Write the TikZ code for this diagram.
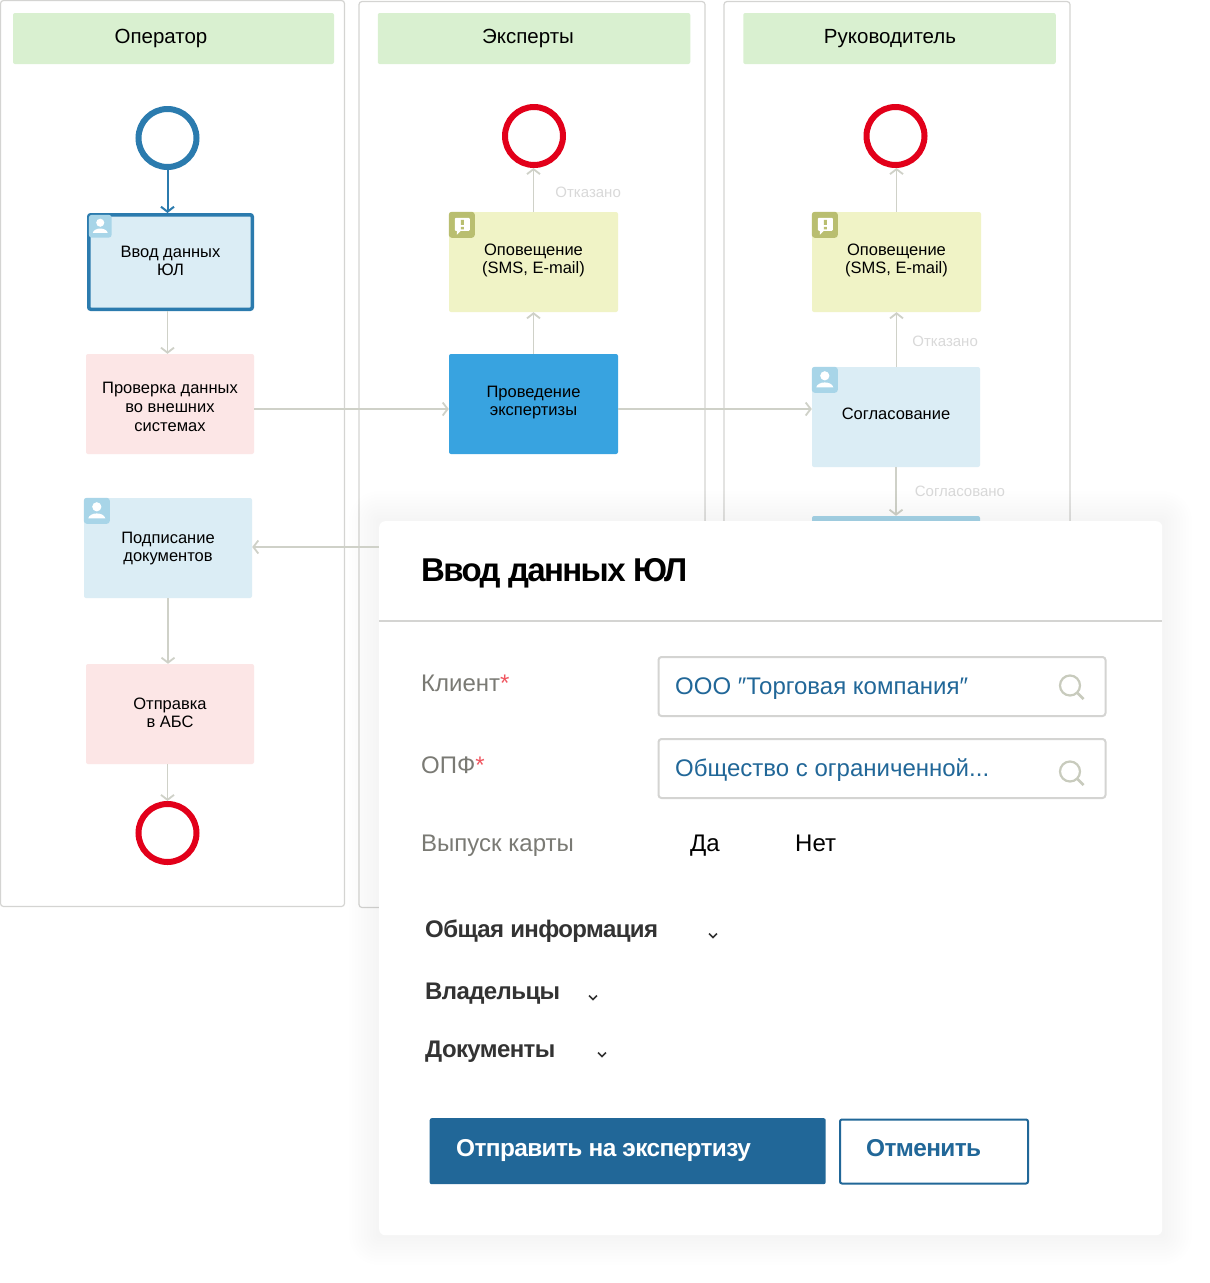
\documentclass[tikz,border=0pt]{standalone}
\usepackage{fontspec}
\setmainfont{Liberation Sans}
\newfontfamily\titlefont[LetterSpace=-5]{Liberation Sans}
\newfontfamily\sectionfont[LetterSpace=-2.5]{Liberation Sans}
\newfontfamily\buttonfont[LetterSpace=-2.5]{Liberation Sans}
\usetikzlibrary{arrows.meta}
\definecolor{laneline}{HTML}{D4D4D2}
\definecolor{headgreen}{HTML}{D9F0D0}
\definecolor{flowblue}{HTML}{2B7BAE}
\definecolor{stopred}{HTML}{E2001A}
\definecolor{userfill}{HTML}{DBEDF5}
\definecolor{usericon}{HTML}{A8D5E8}
\definecolor{autofill}{HTML}{FCE6E6}
\definecolor{notefill}{HTML}{F0F3C6}
\definecolor{noteicon}{HTML}{B9BE70}
\definecolor{examfill}{HTML}{38A3E0}
\definecolor{flowline}{HTML}{CFD1C8}
\definecolor{flowtext}{HTML}{D9D9D9}
\definecolor{formgray}{HTML}{7A7A74}
\definecolor{formblue}{HTML}{216798}
\definecolor{formstar}{HTML}{F0555F}
\definecolor{searchgray}{HTML}{C8CBBD}
\definecolor{darktext}{HTML}{333333}

\begin{document}
\begin{tikzpicture}[x=1pt,y=1pt,>={Straight Barb[length=5pt,width=13pt]},
                    pics/usermark/.style={code={
                      \fill[usericon,rounded corners=3pt] (0,0) rectangle (26,-26);
                      \fill[white] (13,-9) circle (4.6);
                      \fill[white] (4.5,-20.5) .. controls (6,-14) and (20,-14) .. (21.5,-20.5) -- cycle;}},
                    pics/notemark/.style={code={
                      \fill[noteicon,rounded corners=3pt] (0,0) rectangle (26,-26);
                      \fill[white,rounded corners=1pt] (6,-6) rectangle (21,-19);
                      \fill[white] (8,-18) -- (8,-23) -- (13,-18) -- cycle;
                      \fill[noteicon] (12,-8) rectangle (15,-13) (12,-15) rectangle (15,-17.5);}},
                    pics/lens/.style={code={
                      \draw[searchgray,line width=2.2pt] (0,-0.5) circle (10);
                      \draw[searchgray,line width=2.8pt] (7.5,-8) -- (13.5,-14);}},
                    pics/fold/.style={code={
                      \draw[darktext,line width=1.5pt] (-4,2) -- (0,-2) -- (4,2);}}]
  \tikzstyle{lane}=[draw=laneline,line width=1.2pt,fill=white,rounded corners=3pt,
                    minimum width=346pt,minimum height=906pt]
  \tikzstyle{lanehead}=[fill=headgreen,rounded corners=2pt,minimum height=51pt,
                    font=\fontsize{20.5}{24}\selectfont]
  \tikzstyle{box}=[rounded corners=2pt,minimum width=168pt,minimum height=100pt,align=center,
                    text depth=7pt,font=\fontsize{16.5}{18}\selectfont]
  \tikzstyle{userbox}=[box,fill=userfill]
  \tikzstyle{autobox}=[box,fill=autofill]
  \tikzstyle{notebox}=[box,fill=notefill]
  \tikzstyle{startmark}=[circle,draw=flowblue,fill=white,line width=6pt,minimum size=58pt,inner sep=0pt]
  \tikzstyle{stopmark}=[startmark,draw=stopred]
  \tikzstyle{every edge}=[->,draw=flowline,line width=1.8pt]
  \tikzstyle{flowlabel}=[right,text=flowtext,font=\fontsize{15}{16}\selectfont,inner sep=0pt]
  \tikzstyle{field}=[draw=laneline,line width=2pt,fill=white,rounded corners=3pt,
                    minimum width=447pt,minimum height=59pt,anchor=north west]
  \tikzstyle{formtext}=[anchor=base west,inner sep=0pt,font=\fontsize{24}{28}\selectfont]
  \tikzstyle{formname}=[formtext,text=formgray]
  \tikzstyle{formvalue}=[formtext,text=formblue]
  \tikzstyle{section}=[formtext,text=darktext,font=\fontsize{24}{28}\selectfont\sectionfont\bfseries]
  \tikzstyle{buttontext}=[formtext,font=\fontsize{24.4}{28}\selectfont\buttonfont\bfseries]

  \useasboundingbox (0,0) rectangle (1210,-1283);

  \node[lane,minimum width=344pt] (operator) at (172.5,-453.5) {};
  \node[lane] (experts)  at (532,-454.5) {};
  \node[lane] (manager)  at (897,-454.5) {};
  \node[lanehead,minimum width=321pt] (operatorhead) at (173.5,-38.5) {\hspace*{-25pt}Оператор};
  \node[lanehead,minimum width=312.5pt] (expertshead)  at (534,-38.5) {\hspace*{-12pt}Эксперты};
  \node[lanehead,minimum width=312.5pt] (managerhead)  at (899.5,-38.5) {\hspace*{-19pt}Руководитель};

  \node[startmark] (start) at (167.5,-138) {};
  \node[userbox,text depth=3pt,draw=flowblue,line width=3.5pt,minimum width=163.5pt,minimum height=94.5pt] (input) at (170.5,-262) {Ввод данных\\ЮЛ};
  \node[autobox,text depth=0pt,font=\fontsize{16.5}{19}\selectfont,node distance=142pt,below of=input,xshift=-0.5pt] (check) {\rule{0pt}{17pt}Проверка данных\\во внешних\\системах};
  \node[userbox,text depth=3pt,node distance=144pt,below of=check,xshift=-2pt] (sign) {Подписание\\документов};
  \node[autobox,text depth=3pt,node distance=166pt,below of=sign,xshift=2pt] (send) {Отправка\\в АБС};
  \node[stopmark,node distance=119pt,below of=send,xshift=-2.5pt] (endone) {};

  \node[box,fill=examfill,minimum width=169pt] (exam) at (533.5,-404) {Проведение\\экспертизы};
  \node[notebox,minimum width=169pt,node distance=142pt,above of=exam] (notify) {Оповещение\\(SMS, E-mail)};
  \node[stopmark,node distance=126pt,above of=notify,xshift=0.5pt] (endtwo) {};

  \node[userbox] (agree) at (896,-417) {Согласование};
  \node[notebox,minimum width=169pt,node distance=155pt,above of=agree,xshift=0.5pt] (notifytwo) {Оповещение\\(SMS, E-mail)};
  \node[stopmark,node distance=126pt,above of=notifytwo,xshift=-1pt] (endthree) {};
  \node[box,fill=usericon,node distance=149pt,below of=agree] (signtwo) {};

  \pic[scale=0.88] at ([shift={(1.8,-1.8)}]input.north west) {usermark};
  \pic at (sign.north west) {usermark};
  \pic at (agree.north west) {usermark};
  \pic at (notify.north west) {notemark};
  \pic at (notifytwo.north west) {notemark};

  \path (start) edge[color=flowblue,line width=2pt] (start |- input.north)
        (input.south -| start) edge (check.north -| start)
        ([yshift=-5pt]check.east) edge ([yshift=-5pt]exam.west)
        (exam) edge (notify)
        (notify.north) edge node[flowlabel,xshift=21pt,pos=0.45] (refusedone) {Отказано} (notify.north |- endtwo.south)
        ([yshift=-5pt]exam.east) edge ([yshift=8pt]agree.west)
        (agree.north -| notifytwo) edge node[flowlabel,xshift=15pt,pos=0.47] (refusedtwo) {Отказано} (notifytwo)
        (notifytwo.north) edge (notifytwo.north |- endthree.south)
        (agree) edge node[flowlabel,xshift=18pt,pos=0.5] (agreed) {Согласовано} (signtwo)
        (sign.south) edge (sign.south |- send.north)
        (send.south -| endone) edge (endone);

  \coordinate (cardnw) at (379,-521);
  \coordinate (cardse) at (1162,-1235);
  \foreach \grow in {3,6,...,30}
    \fill[black,opacity=0.003,rounded corners=\grow pt]
      ([shift={(-\grow pt,\grow pt)}]cardnw) rectangle ([shift={(\grow pt,-\grow pt)}]cardse);
  \node[fill=white,rounded corners=6pt,minimum width=783pt,minimum height=714pt,anchor=north west] (card) at (cardnw) {};

  \path ([yshift=1pt]card.west |- sign.east) edge ([yshift=1pt]sign.east);

  \node[formtext,font=\fontsize{33}{38}\selectfont\titlefont\bfseries] (title) at (421,-581) {Ввод данных ЮЛ};
  \draw[laneline,line width=1.5pt] (card.west |- 0,-621) -- (card.east |- 0,-621);

  \node[formname] (clientname) at (421,-691) {Клиент\textcolor{formstar}{*}};
  \node[field] (clientfield) at (657.5,-656) {};
  \node[formvalue] (clientvalue) at (675,-694) {ООО ″Торговая компания″};
  \pic at (1070,-685) {lens};

  \node[formname] (formname) at (421,-773) {ОПФ\textcolor{formstar}{*}};
  \node[field] (formfield) at (657.5,-738) {};
  \node[formvalue] (formvalue) at (675,-776) {Общество с ограниченной...};
  \pic at (1070,-771) {lens};

  \node[formname] (cardname) at (421,-851) {Выпуск карты};
  \node[formtext] (yes) at (690,-851) {Да};
  \node[formtext] (no) at (795,-851) {Нет};

  \node[section] (common) at (425,-937) {Общая информация};
  \pic at (713,-935.5) {fold};
  \node[section] (owners) at (425,-999) {Владельцы};
  \pic at (593,-997.5) {fold};
  \node[section] (docs) at (425,-1057) {Документы};
  \pic at (602,-1054.5) {fold};

  \node[fill=formblue,rounded corners=2pt,minimum width=396pt,minimum height=66pt,anchor=north west] (submit) at (429.5,-1118) {};
  \node[buttontext,text=white] (submittext) at (456,-1156.5) {Отправить на экспертизу};
  \node[draw=formblue,line width=2pt,rounded corners=2pt,minimum width=188pt,minimum height=64pt,anchor=north west] (cancel) at (839,-1118.5) {};
  \node[buttontext,text=formblue] (canceltext) at (866,-1156.5) {Отменить};
\end{tikzpicture}
\end{document}
